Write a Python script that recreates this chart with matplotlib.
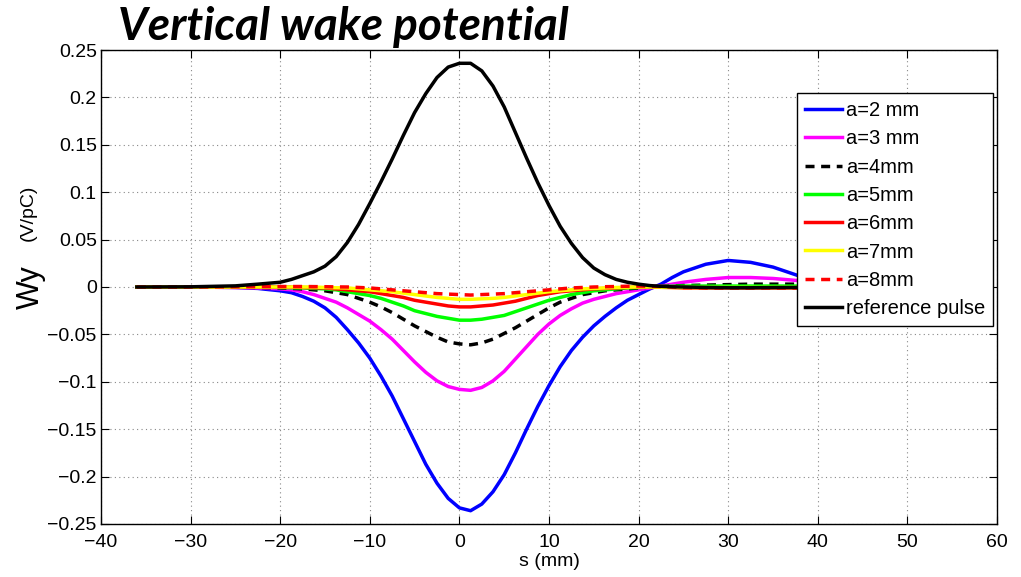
import matplotlib.pyplot as plt

# longitudinal position (mm)
s = [-36, -30, -25, -22.5,
     -20, -18.75, -17.5, -16.25, -15, -13.75, -12.5, -11.25, -10, -8.75, -7.5, -6.25,
     -5, -3.75, -2.5, -1.25, 0, 1.25, 2.5, 3.75, 5, 6.25, 7.5, 8.75,
     10, 11.25, 12.5, 13.75, 15, 16.25, 17.5, 18.75, 20, 21.25, 22.5, 23.75,
     25, 27.5, 30, 32.5, 35, 37.5, 40]

# wake potential Wy (V/pC) for each gap a
wy_a2 = [0, 0, -0.0005, -0.0015,
         -0.004, -0.006, -0.010, -0.015, -0.022, -0.032, -0.045, -0.059, -0.075, -0.094, -0.115, -0.139,
         -0.163, -0.187, -0.207, -0.223, -0.233, -0.236, -0.229, -0.216, -0.198, -0.175, -0.150, -0.126,
         -0.104, -0.084, -0.067, -0.053, -0.041, -0.031, -0.022, -0.014, -0.008, -0.002, 0.003, 0.010,
         0.016, 0.024, 0.028, 0.026, 0.021, 0.013, 0.005]
wy_a3 = [0, 0, -0.0005, -0.001,
         -0.002, -0.003, -0.005, -0.008, -0.012, -0.016, -0.022, -0.029, -0.036, -0.045, -0.055, -0.067,
         -0.079, -0.090, -0.099, -0.105, -0.108, -0.109, -0.106, -0.099, -0.089, -0.076, -0.063, -0.050,
         -0.039, -0.030, -0.023, -0.017, -0.013, -0.010, -0.007, -0.005, -0.003, -0.001, 0.001, 0.003,
         0.005, 0.008, 0.010, 0.010, 0.009, 0.007, 0.005]
wy_a4 = [0, 0, 0, -0.0005,
         -0.001, -0.0015, -0.002, -0.003, -0.004, -0.006, -0.008, -0.012, -0.016, -0.021, -0.027, -0.034,
         -0.041, -0.047, -0.053, -0.058, -0.060, -0.061, -0.059, -0.055, -0.049, -0.043, -0.036, -0.029,
         -0.022, -0.016, -0.012, -0.008, -0.006, -0.004, -0.003, -0.002, -0.001, 0, 0.0005, 0.001,
         0.0015, 0.002, 0.0025, 0.003, 0.003, 0.003, 0.003]
wy_a5 = [0, 0, 0, 0,
         -0.0005, -0.0008, -0.001, -0.0015, -0.002, -0.003, -0.005, -0.007, -0.009, -0.012, -0.016, -0.020,
         -0.025, -0.028, -0.031, -0.033, -0.035, -0.035, -0.034, -0.032, -0.030, -0.026, -0.022, -0.018,
         -0.014, -0.011, -0.008, -0.006, -0.004, -0.003, -0.002, -0.001, -0.0005, 0, 0.0005, 0.0008,
         0.001, 0.001, 0.001, 0.001, 0.001, 0.001, 0.001]
wy_a6 = [0, 0, 0, 0,
         0, -0.0002, -0.0005, -0.0008, -0.001, -0.002, -0.003, -0.004, -0.005, -0.007, -0.009, -0.011,
         -0.014, -0.016, -0.018, -0.020, -0.021, -0.021, -0.020, -0.019, -0.017, -0.015, -0.012, -0.009,
         -0.007, -0.005, -0.004, -0.003, -0.002, -0.0015, -0.001, -0.0005, 0, 0, -0.0003, -0.0005,
         -0.001, -0.001, -0.001, -0.001, -0.001, -0.001, -0.001]
wy_a7 = [0, 0, 0, 0,
         0, 0, 0, 0, -0.0005, -0.0008, -0.001, -0.002, -0.003, -0.004, -0.005, -0.0065,
         -0.008, -0.0095, -0.011, -0.012, -0.013, -0.013, -0.0125, -0.012, -0.011, -0.0095, -0.008, -0.0065,
         -0.005, -0.004, -0.003, -0.002, -0.0015, -0.001, -0.0005, -0.0002, 0, 0, -0.0003, -0.0005,
         -0.0005, -0.0005, -0.0005, -0.0005, -0.0005, -0.0005, -0.0005]
wy_a8 = [0, 0, 0.0003, 0.0005,
         0.0005, 0.0005, 0.0005, 0.0004, 0.0003, 0.0001, 0, -0.0005, -0.001, -0.002, -0.003, -0.004,
         -0.005, -0.006, -0.007, -0.0075, -0.008, -0.0085, -0.008, -0.0075, -0.007, -0.006, -0.005, -0.004,
         -0.003, -0.002, -0.001, -0.0005, 0, 0.0003, 0.0005, 0.0008, 0.001, 0.0008, 0.0005, 0,
         -0.0005, -0.001, -0.001, -0.001, -0.001, -0.001, -0.001]
ref_pulse = [0, 0.0002, 0.0012, 0.003,
             0.005, 0.008, 0.012, 0.016, 0.022, 0.032, 0.047, 0.066, 0.088, 0.111, 0.135, 0.160,
             0.184, 0.204, 0.221, 0.232, 0.236, 0.236, 0.228, 0.212, 0.190, 0.163, 0.136, 0.110,
             0.086, 0.064, 0.046, 0.031, 0.020, 0.013, 0.008, 0.005, 0.003, 0.0015, 0.0007, 0.0002,
             0, -0.0005, -0.0008, -0.0008, -0.0006, -0.0005, -0.0005]

plt.rcParams['font.family'] = ['Liberation Sans', 'DejaVu Sans']

fig = plt.figure(figsize=(10.21, 5.77), dpi=100)
ax = fig.add_axes([0.0989, 0.0919, 0.8776, 0.8214])

lw = 2.5
dash = (0, (2.6, 1.9))
ax.plot(s, wy_a2, color=(0, 0, 1), lw=lw, label='a=2 mm')
ax.plot(s, wy_a3, color=(1, 0, 1), lw=lw, label='a=3 mm')
ax.plot(s, wy_a4, color='black', lw=lw, linestyle=dash, label='a=4mm')
ax.plot(s, wy_a5, color=(0, 1, 0), lw=lw, label='a=5mm')
ax.plot(s, wy_a6, color=(1, 0, 0), lw=lw, label='a=6mm')
ax.plot(s, wy_a7, color=(1, 1, 0), lw=lw, label='a=7mm')
ax.plot(s, wy_a8, color=(1, 0, 0), lw=lw, linestyle=dash, label='a=8mm')
ax.plot(s, ref_pulse, color='black', lw=lw, label='reference pulse')

ax.set_xlim(-40, 60)
ax.set_ylim(-0.25, 0.25)
ax.set_xticks(range(-40, 61, 10))
ax.set_xticklabels([str(v).replace('-', '\u2212') for v in range(-40, 61, 10)])
ax.set_yticks([-0.25, -0.2, -0.15, -0.1, -0.05, 0, 0.05, 0.1, 0.15, 0.2, 0.25])
ax.set_yticklabels(['\u22120.25', '\u22120.2', '\u22120.15', '\u22120.1', '\u22120.05', '0',
                    '0.05', '0.1', '0.15', '0.2', '0.25'])
ax.tick_params(direction='in', top=True, right=True, labelsize=14, length=6, width=0.8, pad=3)
ax.tick_params(axis='x', pad=7)
ax.grid(True, linestyle=(0, (1, 3)), color='#888888', linewidth=0.8)
for sp in ax.spines.values():
    sp.set_linewidth(1.0)

ax.set_xlabel('s (mm)', fontsize=14, labelpad=2)

fig.text(0.030, 0.502, 'Wy', fontsize=22, rotation=90, ha='center', va='center')
fig.text(0.028, 0.631, '(V/pC)', fontsize=14, rotation=90, ha='center', va='center')

fig.text(0.116, 0.931, 'Vertical wake potential', fontsize=33, family='Lato',
         weight='bold', style='italic', ha='left', va='baseline')

leg = ax.legend(loc='upper right', bbox_to_anchor=(0.9955, 0.909), borderaxespad=0,
                fontsize=14.5, fancybox=False, edgecolor='black', framealpha=1,
                labelspacing=0.46, handlelength=1.8, handletextpad=0.2, borderpad=0.4)
leg.get_frame().set_linewidth(1.0)

fig.savefig('out.png', dpi=100)
